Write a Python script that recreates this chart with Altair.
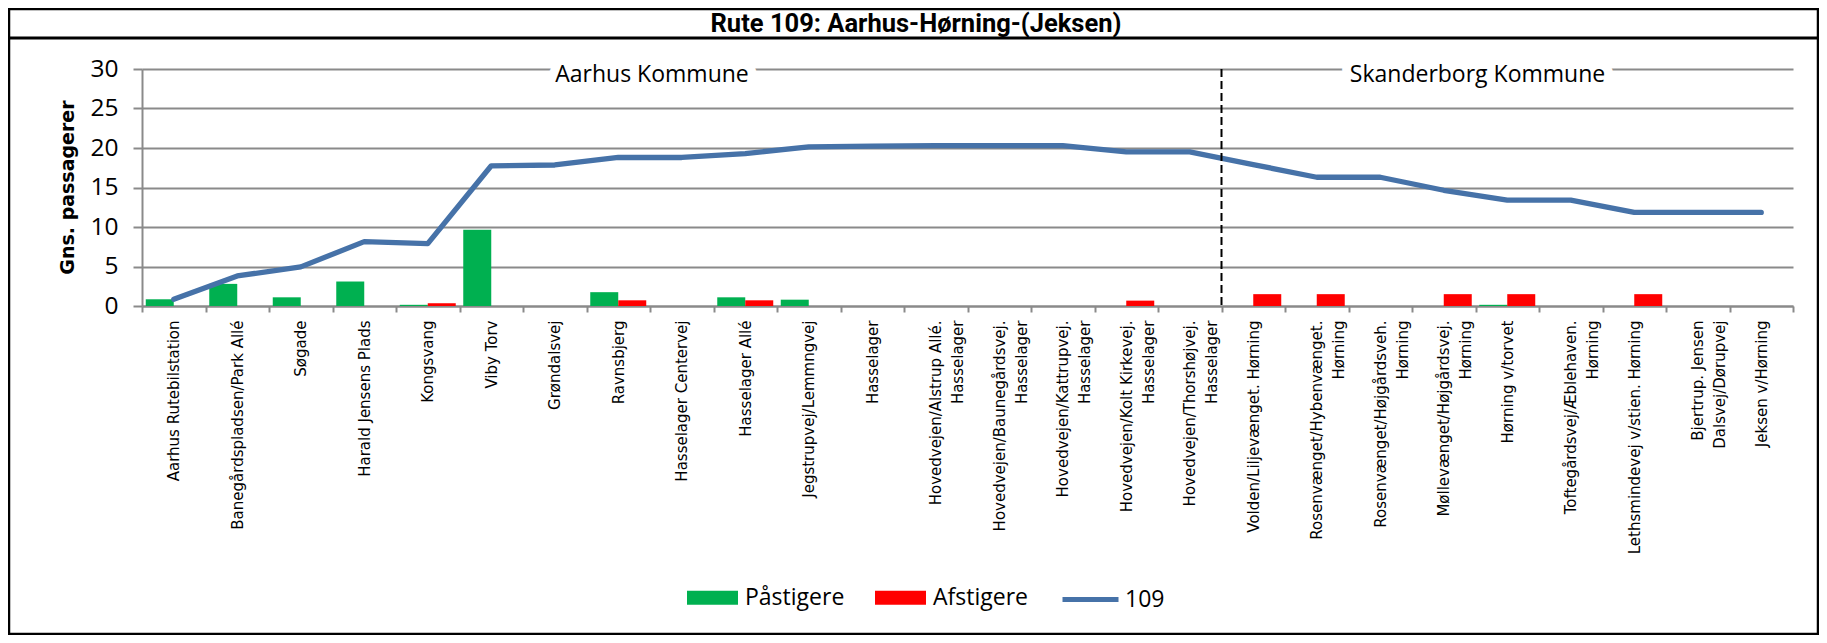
import altair as alt
import pandas as pd

# ---------------- data ----------------
stops = [
    "Aarhus Rutebilstation",
    "Banegårdspladsen/Park Allé",
    "Søgade",
    "Harald Jensens Plads",
    "Kongsvang",
    "Viby Torv",
    "Grøndalsvej",
    "Ravnsbjerg",
    "Hasselager Centervej",
    "Hasselager Allé",
    "Jegstrupvej/Lemmngvej",
    "Hasselager",
    "Hovedvejen/Alstrup Allé.|Hasselager",
    "Hovedvejen/Baunegårdsvej.|Hasselager",
    "Hovedvejen/Kattrupvej.|Hasselager",
    "Hovedvejen/Kolt Kirkevej.|Hasselager",
    "Hovedvejen/Thorshøjvej.|Hasselager",
    "Volden/Liljevænget. Hørning",
    "Rosenvænget/Hybenvænget.|Hørning",
    "Rosenvænget/Højgårdsveh.|Hørning",
    "Møllevænget/Højgårdsvej.|Hørning",
    "Hørning v/torvet",
    "Toftegårdsvej/Æblehaven.|Hørning",
    "Lethsmindevej v/stien. Hørning",
    "Bjertrup. Jensen|Dalsvej/Dørupvej",
    "Jeksen v/Hørning",
]
boarding = [0.85, 2.8, 1.1, 3.1, 0.15, 9.65, 0, 1.75, 0, 1.1, 0.8, 0, 0,
            0, 0, 0, 0, 0, 0, 0, 0, 0.15, 0, 0, 0, 0]
alighting = [0, 0, 0, 0, 0.35, 0, 0, 0.72, 0, 0.72, 0, 0, 0,
             0, 0, 0.68, 0, 1.5, 1.5, 0, 1.5, 1.5, 0, 1.5, 0, 0]
load = [0.85, 3.8, 4.95, 8.15, 7.9, 17.75, 17.85, 18.8, 18.8, 19.3, 20.15,
        20.25, 20.3, 20.3, 20.3, 19.5, 19.5, 17.9, 16.3, 16.3, 14.65, 13.4,
        13.4, 11.85, 11.85, 11.85]
bar_series = ["Påstigere", "Afstigere"]
line_series = "109"
title_text = "Rute 109: Aarhus-Hørning-(Jeksen)"
y_title = "Gns. passagerer"
y_ticks = [0, 5, 10, 15, 20, 25, 30]
kommuner = ["Aarhus Kommune", "Skanderborg Kommune"]
kommune_anchor = ["Hasselager Centervej", "Hørning v/torvet"]
border_stop = "Volden/Liljevænget. Hørning"

# ---------------- style ----------------
GREEN = "#00B050"
RED = "#FF0000"
BLUE = "#4672A8"
GRID = "#8A8A8A"
W, H = 1651, 237
PAD = {"left": 134, "top": 61, "right": 26, "bottom": 329}

bars_df = pd.DataFrame({
    "stop": stops + stops,
    "type": [bar_series[0]] * len(stops) + [bar_series[1]] * len(stops),
    "value": boarding + alighting,
})
line_df = pd.DataFrame({"stop": stops, "value": load,
                        "series": [line_series] * len(stops),
                        "idx": list(range(len(stops)))})
rule_df = pd.DataFrame({"stop": [border_stop], "value": [30], "value2": [0]})
kom_df = pd.DataFrame({"stop": kommune_anchor, "label": kommuner, "value": [30, 30]})

xscale = alt.Scale(domain=stops, paddingInner=0, paddingOuter=0)
yscale = alt.Scale(domain=[0, 30], nice=False)

x_axis = alt.Axis(
    title=None, labelAngle=270, labelAlign="right", labelBaseline="middle",
    labelFont="DejaVu Sans", labelFontSize=15, labelColor="black",
    labelPadding=8, labelLineHeight=22, labelLimit=400,
    tickBand="extent", tickSize=6, tickColor=GRID, tickWidth=2,
    domainColor=GRID, domainWidth=2, grid=False,
    labelExpr="split(datum.label, '|')",
)
y_axis = alt.Axis(
    title=y_title, values=y_ticks, labelFont="Open Sans", labelFontSize=24.5,
    labelColor="black", labelPadding=15, tickSize=9, tickColor=GRID,
    tickWidth=2, domainColor=GRID, domainWidth=2, gridColor=GRID,
    gridWidth=2, titleFont="DejaVu Sans", titleFontSize=19,
    titleFontWeight="bold", titleColor="black", titleAngle=270,
    titleX=-65, titleY=118, titleBaseline="bottom", titleAlign="center",
)


def X(**kw):
    return alt.X("stop:N", scale=xscale, axis=x_axis, sort=stops, **kw)


def Y():
    return alt.Y("value:Q", scale=yscale, axis=y_axis)


bars = alt.Chart(bars_df).mark_bar().encode(
    x=X(),
    xOffset=alt.XOffset("type:N", sort=bar_series,
                        scale=alt.Scale(domain=bar_series, paddingInner=0,
                                        paddingOuter=0.134)),
    y=Y(),
    color=alt.Color(
        "type:N", scale=alt.Scale(domain=bar_series, range=[GREEN, RED]),
        legend=alt.Legend(
            title=None, orient="none", legendX=545, legendY=503,
            direction="horizontal", symbolType="M-1,-0.275H1V0.275H-1Z",
            symbolSize=2601, symbolStrokeWidth=0, labelFont="Open Sans",
            labelFontSize=23, labelColor="black", labelOffset=7,
            columnPadding=30, labelLimit=300,
        ),
    ),
)

line = alt.Chart(line_df).mark_line(
    strokeWidth=5.3, strokeCap="round", strokeJoin="round"
).encode(
    x=X(),
    y=Y(),
    order=alt.Order("idx:Q"),
    stroke=alt.Stroke(
        "series:N", scale=alt.Scale(domain=[line_series], range=[BLUE]),
        legend=alt.Legend(
            title=None, orient="none", legendX=918, legendY=500,
            symbolType="stroke", symbolSize=3136, symbolStrokeWidth=5,
            labelFont="Open Sans", labelFontSize=23, labelColor="black",
            labelOffset=4,
        ),
    ),
)

rule = alt.Chart(rule_df).mark_rule(
    color="black", strokeWidth=2, strokeDash=[8, 4]
).encode(x=X(bandPosition=0), y=Y(), y2="value2:Q")

halo = alt.Chart(kom_df).mark_text(
    font="Open Sans", fontSize=23, align="center", baseline="alphabetic",
    dy=12.5, dx=2, stroke="white", strokeWidth=18, fill="white",
    strokeJoin="round",
).encode(x=X(bandPosition=0), y=Y(), text="label:N")
ktext = alt.Chart(kom_df).mark_text(
    font="Open Sans", fontSize=23, align="center", baseline="alphabetic",
    dy=12.5, dx=2, color="black",
).encode(x=X(bandPosition=0), y=Y(), text="label:N")

one = alt.Data(values=[{"t": title_text}])
frame = alt.Chart(one).mark_rect(
    filled=False, stroke="black", strokeWidth=2.5
).encode(x=alt.value(-133), x2=alt.value(1676), y=alt.value(-60), y2=alt.value(565))
sep = alt.Chart(one).mark_rule(color="black", strokeWidth=3).encode(
    x=alt.value(-133), x2=alt.value(1676), y=alt.value(-31)
)
title = alt.Chart(one).mark_text(
    font="Roboto", fontSize=25.5, fontWeight="bold", align="center",
    baseline="alphabetic", color="black",
).encode(x=alt.value(774), y=alt.value(-37), text="t:N")

chart = alt.layer(bars, line, rule, halo, ktext, frame, sep, title).properties(
    width=W, height=H, padding=PAD,
    autosize=alt.AutoSizeParams(type="none"), background="white",
).configure_view(strokeWidth=0)

chart.save("out.html", embed_options={"renderer": "svg", "actions": False})
